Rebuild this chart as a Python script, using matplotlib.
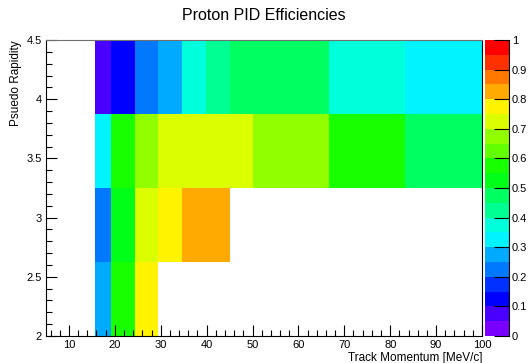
import numpy as np
import matplotlib
matplotlib.use('Agg')
import matplotlib.pyplot as plt
from matplotlib.colors import ListedColormap, BoundaryNorm
from matplotlib.ticker import MultipleLocator, FormatStrFormatter
import colorsys

plt.rcParams['font.family'] = ['Liberation Sans', 'DejaVu Sans']

# ---- data ----
x_edges = [15.6, 19.1, 24.3, 29.5, 34.7, 39.8, 45.0, 50.0, 66.7, 83.3, 100.0]
y_edges = [2.0, 2.625, 3.25, 3.875, 4.5]
nan = np.nan
eff_eta_row1 = [0.275, 0.575, 0.775, nan, nan, nan, nan, nan, nan, nan]
eff_eta_row2 = [0.225, 0.525, 0.725, 0.775, 0.825, 0.825, nan, nan, nan, nan]
eff_eta_row3 = [0.325, 0.575, 0.675, 0.725, 0.725, 0.725, 0.725, 0.675, 0.575, 0.475]
eff_eta_row4 = [0.075, 0.125, 0.225, 0.275, 0.375, 0.425, 0.475, 0.475, 0.375, 0.325]

title = "Proton PID Efficiencies"
xlabel = "Track Momentum [MeV/c]"
ylabel = "Psuedo Rapidity"

# ---- ROOT-like rainbow palette with 20 contours ----
ncont = 20
ncol = 50
colors = []
for k in range(ncont):
    i = int((k + 0.99) * ncol / ncont)
    h = (280.0 - i * 280.0 / (ncol - 1)) / 360.0
    colors.append(colorsys.hls_to_rgb(h, 0.5, 1.0))
cmap = ListedColormap(colors)
levels = np.linspace(0, 1, ncont + 1)
norm = BoundaryNorm(levels, cmap.N)

Z = np.ma.masked_invalid(np.array([eff_eta_row1, eff_eta_row2, eff_eta_row3, eff_eta_row4]))

W, H = 528, 363
fig = plt.figure(figsize=(W / 100, H / 100), dpi=100)
ax = fig.add_axes([46 / W, (H - 336) / H, (482 - 46) / W, (336 - 40) / H])
cax = fig.add_axes([485 / W, (H - 336) / H, (509 - 485) / W, (336 - 40) / H])

mesh = ax.pcolormesh(x_edges, y_edges, Z, cmap=cmap, norm=norm, zorder=1)
ax.set_xlim(5, 100)
ax.set_ylim(2, 4.5)

ax.xaxis.set_major_locator(MultipleLocator(10))
ax.xaxis.set_minor_locator(MultipleLocator(2))
ax.yaxis.set_major_locator(MultipleLocator(0.5))
ax.yaxis.set_minor_locator(MultipleLocator(0.1))
ax.yaxis.set_major_formatter(FormatStrFormatter('%g'))
ax.tick_params(which='both', direction='in', top=False, right=False, labelsize=8, pad=3, width=0.8)
ax.tick_params(which='major', length=8)
ax.tick_params(which='minor', length=4)
for s in ax.spines.values():
    s.set_linewidth(0.8)
ax.spines['top'].set_color('#707070')

ax.set_xlabel(xlabel, fontsize=8.5, loc='right', labelpad=1)
ax.set_ylabel(ylabel, fontsize=8.5, loc='top', labelpad=3)

fig.text(0.5, 1 - 16 / H, title, ha='center', va='center', fontsize=11.5)

cb = fig.colorbar(mesh, cax=cax, ticks=np.linspace(0, 1, 11))
cb.outline.set_visible(False)
cax.yaxis.set_major_formatter(FormatStrFormatter('%g'))
cax.tick_params(which='both', direction='in', length=11, width=0.8, labelsize=8, pad=2)
cax.minorticks_off()
cax.plot([1, 1], [0, 1], transform=cax.transAxes, color='black', lw=0.8, clip_on=False)

fig.savefig('out.png', dpi=100)
